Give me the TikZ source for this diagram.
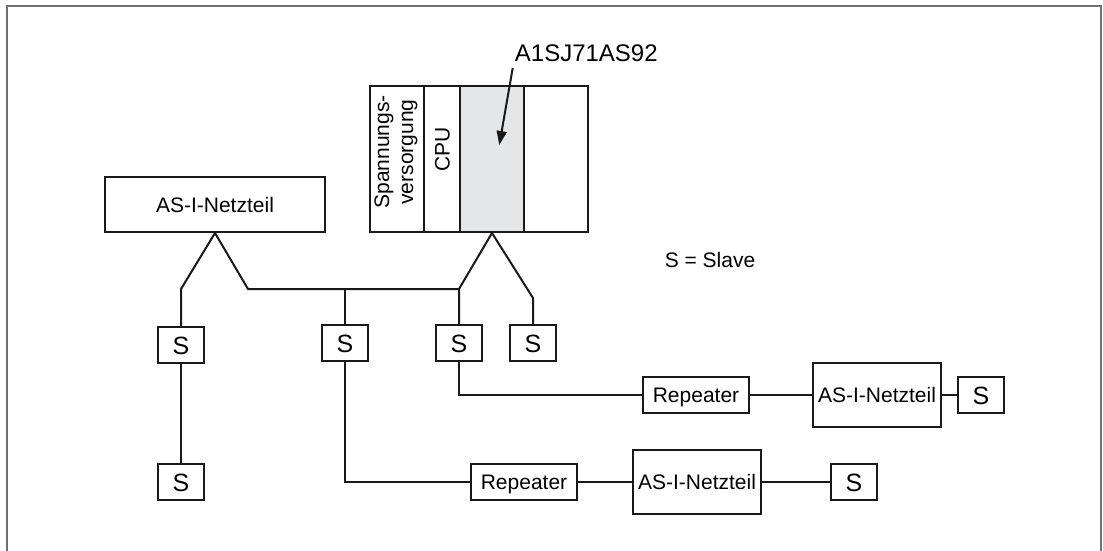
\documentclass[tikz,border=0pt]{standalone}
\usepackage{fontspec}
\setmainfont{Liberation Sans}
\usetikzlibrary{arrows.meta}
\definecolor{modgrey}{HTML}{E5E6E8}
\definecolor{framegrey}{HTML}{707070}
\begin{document}
\begin{tikzpicture}[x=1pt,y=-1pt,
  line width=2pt, line join=miter,
  box/.style={draw=black!90, line width=2pt, rectangle, inner sep=0pt, minimum width=#1,
    font=\fontsize{21}{24}\selectfont, text height=15.2pt, text depth=0pt},
  box/.default=46pt,
  slave/.style={box=46pt, minimum height=36pt, font=\fontsize{25}{28}\selectfont, text height=18.2pt},
  module/.style={draw=black!90, line width=2pt, rectangle, inner sep=0pt, minimum height=146pt},
  wire/.style={draw=black!90, line width=2pt},
  lbl/.style={font=\fontsize{21}{24}\selectfont, inner sep=0pt}
]
\useasboundingbox (0,0) rectangle (1103,550);
% frame
\draw[framegrey, line width=2pt] (7,551) -- (7,6) -- (1101,6) -- (1101,551);

% rack
\node[module, minimum width=54pt] (spv) at (397,159) {};
\node[module, minimum width=36pt] (cpu) at (442,159) {};
\node[module, minimum width=64pt, fill=modgrey] (as92) at (492,159) {};
\node[module, minimum width=64pt] (empty) at (556,159) {};
\node[lbl, rotate=90, align=center] (spvtxt) at (396,152) {Spannungs-\\versorgung};
\node[lbl, rotate=90, text height=15.2pt, text depth=0pt] (cputxt) at (442,149) {CPU};

% label and arrow
\node[font=\fontsize{24}{28}\selectfont, inner sep=0pt, anchor=base] (lab) at (586.3,61.7) {A1SJ71AS92};
\coordinate (ast) at (512.7,68);
\coordinate (aen) at (499.3,145);
\draw[wire, -{Triangle[length=14pt,width=10pt]}] (ast) -- (aen);

% power supply top left
\node[box=220pt, minimum height=55pt] (nt0) at (215,204.5) {AS-I-Netzteil};

% slaves
\node[slave] (s1) at (181,345) {S};
\node[slave] (s2) at (345,343) {S};
\node[slave] (s3) at (459,343) {S};
\node[slave] (s4) at (533,343) {S};
\node[slave] (s5) at (181,482) {S};

\node[lbl] (legend) at (710,260) {S = Slave};

% branch 1
\node[box=106pt, minimum height=36pt] (rep1) at (696,395) {Repeater};
\node[box=128pt, minimum height=64pt] (nt1) at (877,395) {AS-I-Netzteil};
\node[slave] (s7) at (981,395) {S};

% branch 2
\node[box=106pt, minimum height=36pt] (rep2) at (524,482) {Repeater};
\node[box=128pt, minimum height=64pt] (nt2) at (697,482) {AS-I-Netzteil};
\node[slave] (s6) at (854,482) {S};

% junctions
\coordinate (j1) at (181,289);
\coordinate (j1b) at (248,289);
\coordinate (j2) at (345,289);
\coordinate (j3) at (459,289);
\coordinate (j4) at (533,298);

% wires
\draw[wire] (nt0.south) -- (j1) -- (s1.north);
\draw[wire] (nt0.south) -- (j1b) -- (j3);
\draw[wire] (j2) -- (s2.north);
\draw[wire] (as92.south) -- (j3) -- (s3.north);
\draw[wire] (as92.south) -- (j4) -- (s4.north);
\draw[wire] (s1.south) -- (s5.north);
\draw[wire] (s3.south) |- (rep1.west);
\draw[wire] (rep1.east) -- (nt1.west);
\draw[wire] (nt1.east) -- (s7.west);
\draw[wire] (s2.south) |- (rep2.west);
\draw[wire] (rep2.east) -- (nt2.west);
\draw[wire] (nt2.east) -- (s6.west);
\end{tikzpicture}
\end{document}
